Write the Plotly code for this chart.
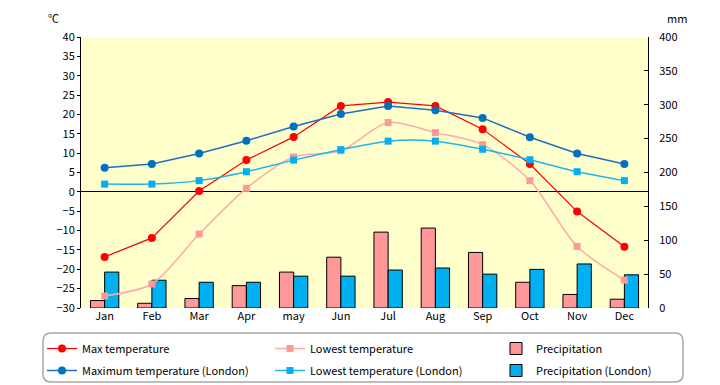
import plotly.graph_objects as go

months = ["Jan", "Feb", "Mar", "Apr", "may", "Jun", "Jul", "Aug", "Sep", "Oct", "Nov", "Dec"]
max_temp = [-16.8, -11.9, 0.2, 8.2, 14.2, 22.2, 23.2, 22.2, 16.2, 7.2, -5.1, -14.2]
low_temp = [-26.9, -23.8, -10.9, 0.9, 9.0, 10.6, 17.9, 15.3, 12.2, 2.9, -14.1, -22.8]
precip = [11, 7, 14, 33, 53, 75, 112, 118, 82, 38, 20, 13]
london_max = [6.2, 7.2, 9.9, 13.2, 16.9, 20.1, 22.2, 21.1, 19.1, 14.1, 9.9, 7.2]
london_low = [2.0, 2.0, 2.9, 5.2, 8.2, 10.9, 13.1, 13.1, 11.0, 8.3, 5.2, 2.9]
london_precip = [53, 41, 38, 38, 47, 47, 56, 59, 50, 57, 65, 49]

W, H = 720, 385
L, R, T, B = 81, 72, 37, 77
pw, ph = W - L - R, H - T - B


def px(x):
    return (x - L) / pw


def py(y):
    return (H - B - y) / ph


FONT = "Noto Sans CJK JP"

fig = go.Figure()

fig.add_trace(go.Scatter(x=months, y=max_temp, name="Max temperature", yaxis="y2",
                         mode="lines+markers", line=dict(color="#FF0000", width=1.2),
                         marker=dict(symbol="circle", size=8, color="#FF0000"),
                         legend="legend", legendgroup="a"))
fig.add_trace(go.Scatter(x=months, y=london_max, name="Maximum temperature (London)", yaxis="y2",
                         mode="lines+markers", line=dict(color="#1F6FC0", width=1.5),
                         marker=dict(symbol="circle", size=8, color="#0070C0"),
                         legend="legend", legendgroup="b"))
fig.add_trace(go.Scatter(x=months, y=low_temp, name="Lowest temperature", yaxis="y2",
                         mode="lines+markers", line=dict(color="#FFAAAA", width=1.5, shape="spline", smoothing=0.8),
                         marker=dict(symbol="square", size=7, color="#FF9999"),
                         legend="legend2", legendgroup="c"))
fig.add_trace(go.Scatter(x=months, y=london_low, name="Lowest temperature (London)", yaxis="y2",
                         mode="lines+markers", line=dict(color="#20B4F0", width=1.5, shape="spline", smoothing=0.8),
                         marker=dict(symbol="square", size=7, color="#00B0F0"),
                         legend="legend2", legendgroup="d"))
fig.add_trace(go.Bar(x=months, y=precip, name="Precipitation", yaxis="y",
                     marker=dict(color="#FF9999", line=dict(color="black", width=1)),
                     legend="legend3", legendgroup="e"))
fig.add_trace(go.Bar(x=months, y=london_precip, name="Precipitation (London)", yaxis="y",
                     marker=dict(color="#00B0F0", line=dict(color="black", width=1)),
                     legend="legend3", legendgroup="f"))

leg_common = dict(orientation="v", xanchor="left", yanchor="top", y=py(334),
                  bgcolor="rgba(0,0,0,0)", borderwidth=0, itemwidth=30, tracegroupgap=3,
                  font=dict(family=FONT, size=11, color="black"))

x0, x1 = px(43), px(683)
y0, y1 = py(333), py(382)
rx, ry = 8 / pw, 8 / ph
box = (f"M {x0+rx},{y0} L {x1-rx},{y0} Q {x1},{y0} {x1},{y0-ry} "
       f"L {x1},{y1+ry} Q {x1},{y1} {x1-rx},{y1} L {x0+rx},{y1} "
       f"Q {x0},{y1} {x0},{y1+ry} L {x0},{y0-ry} Q {x0},{y0} {x0+rx},{y0} Z")

fig.update_layout(
    width=W, height=H,
    margin=dict(l=L, r=R, t=T, b=B, autoexpand=False),
    paper_bgcolor="white", plot_bgcolor="#FFFFCC",
    font=dict(family=FONT, size=11, color="black"),
    barmode="group", bargap=0.4, bargroupgap=0,
    xaxis=dict(range=[-0.5, 11.5], showline=False, ticks="", showgrid=False,
               tickfont=dict(size=11)),
    yaxis=dict(range=[0, 400], dtick=50, side="right", showline=True, linecolor="black",
               linewidth=1, ticks="inside", ticklen=4, tickcolor="black", showgrid=False,
               zeroline=False, ticklabelstandoff=8, tickfont=dict(size=11)),
    yaxis2=dict(range=[-30, 40], dtick=5, side="left", overlaying="y", showline=True,
                linecolor="black", linewidth=1, ticks="outside", ticklen=3, tickcolor="black",
                showgrid=False, zeroline=True, zerolinecolor="black", zerolinewidth=1,
                tickfont=dict(size=11)),
    legend=dict(x=px(42), **leg_common),
    legend2=dict(x=px(270), **leg_common),
    legend3=dict(x=px(496), **leg_common),
    shapes=[dict(type="path", xref="paper", yref="paper", path=box,
                 line=dict(color="#A8A8A8", width=1.5), fillcolor="rgba(0,0,0,0)")],
    annotations=[
        dict(text="℃", xref="paper", yref="paper", x=px(53), y=py(18), showarrow=False,
             xanchor="center", yanchor="middle", font=dict(size=11)),
        dict(text="mm", xref="paper", yref="paper", x=px(677), y=py(18), showarrow=False,
             xanchor="center", yanchor="middle", font=dict(size=11)),
    ],
    showlegend=True,
)

fig.write_html("out.html", config={"displayModeBar": False},
               post_script="document.body.style.margin='0';")
